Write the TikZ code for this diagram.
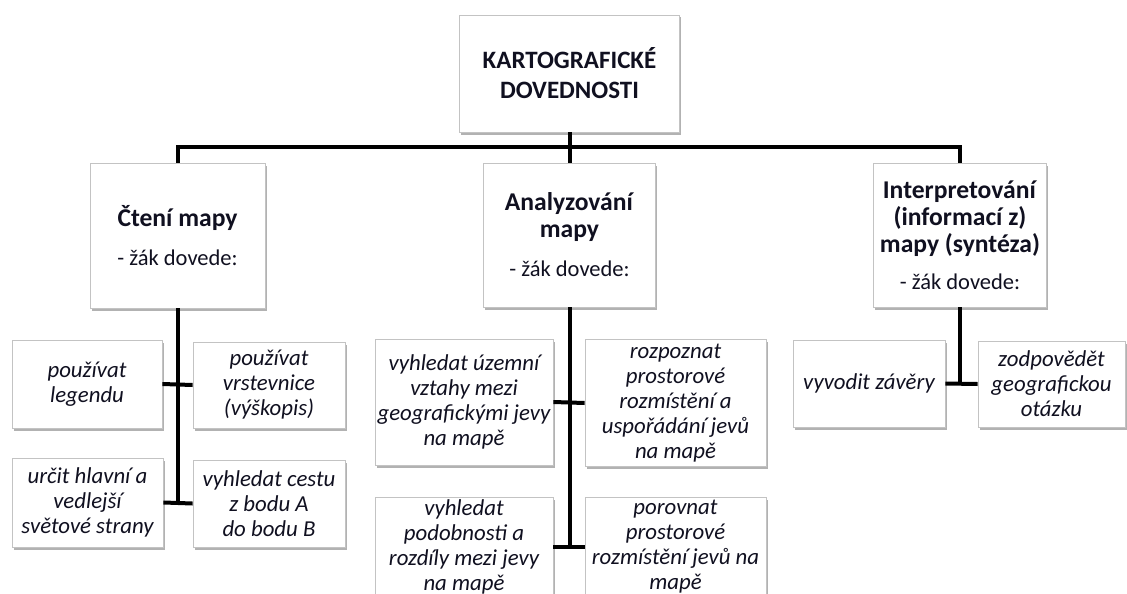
\documentclass[tikz,border=0pt]{standalone}
\usepackage{fontspec}
\setmainfont{Carlito}
\usetikzlibrary{shadows}
\definecolor{txt}{RGB}{16,16,32}
\definecolor{boxline}{RGB}{195,195,195}
\begin{document}
\begin{tikzpicture}[x=1pt,y=-1pt,
  box/.style={draw=boxline, line width=0.8pt, fill=white,
    drop shadow={shadow xshift=1.5pt, shadow yshift=-2.5pt, opacity=0.3, fill=black},
    text=txt, align=center, inner sep=2pt},
  leaf/.style={box, font=\fontsize{22.8}{25}\selectfont\itshape},
  cat/.style={box, font=\fontsize{25.6}{27}\selectfont},
  conn/.style={line width=4pt, black}]
\useasboundingbox (0,0) rectangle (1127,594);
\clip (0,0) rectangle (1127,594);

% top
\node[box, font=\fontsize{25}{30}\selectfont\bfseries, minimum width=220pt, minimum height=117pt] (top) at (569.5,73.5) {KARTOGRAFICKÉ\\DOVEDNOSTI};

% categories
\node[cat, minimum width=175pt, minimum height=145pt] (c1) at (177.5,235.5)
  {\textbf{Čtení mapy}\\[12pt]{\fontsize{22.5}{25}\selectfont - žák dovede:}};
\node[cat, minimum width=172pt, minimum height=144pt] (c2) at (569.5,235)
  {\textbf{Analyzování}\\\textbf{mapy}\\[12pt]{\fontsize{22.5}{25}\selectfont - žák dovede:}};
\node[cat, minimum width=173pt, minimum height=144pt] (c3) at (960,235)
  {\textbf{Interpretování}\\\textbf{(informací z)}\\\textbf{mapy (syntéza)}\\[10pt]{\fontsize{22.5}{25}\selectfont - žák dovede:}};

% left leaves
\node[leaf, minimum width=150pt, minimum height=88pt] (l1) at (87,384) {používat\\legendu};
\node[leaf, minimum width=152pt, minimum height=86pt] (l2) at (269,385) {používat\\vrstevnice\\(výškopis)};
\node[leaf, minimum width=151pt, minimum height=89pt] (l3) at (87.5,502.5) {určit hlavní a\\vedlejší\\světové strany};
\node[leaf, minimum width=152pt, minimum height=87pt] (l4) at (269,503.5) {vyhledat cestu\\z bodu A\\do bodu B};

% middle leaves
\node[leaf, minimum width=178pt, minimum height=126pt] (m1) at (464,402) {vyhledat územní\\vztahy mezi\\geografickými jevy\\na mapě};
\node[leaf, minimum width=181pt, minimum height=127pt] (m2) at (675.5,403) {rozpoznat\\prostorové\\rozmístění a\\uspořádání jevů\\na mapě};
\node[leaf, minimum width=178pt, minimum height=100pt] (m3) at (464,547) {vyhledat\\podobnosti a\\rozdíly mezi jevy\\na mapě};
\node[leaf, minimum width=181pt, minimum height=100pt] (m4) at (675.5,547) {porovnat\\prostorové\\rozmístění jevů na\\mapě};

% right leaves
\node[leaf, minimum width=152pt, minimum height=87pt] (r1) at (869,383.5) {vyvodit závěry};
\node[leaf, minimum width=147pt, minimum height=86pt] (r2) at (1051.5,384) {zodpovědět\\geografickou\\otázku};

% connectors
\coordinate (bar) at (569.5,147);
\draw[conn] (top.south) -- (bar);
\draw[conn] (c1.north) |- (bar) -| (c3.north);
\draw[conn] (bar) -- (c2.north);

\draw[conn] (c1.south) -- (c1.south |- l3.east);
\draw[conn] (l1.east) -- (l2.west);
\draw[conn] (l3.east) -- (l4.west);

\draw[conn] (c2.south) -- (c2.south |- m3.east);
\draw[conn] (m1.east) -- (m2.west);
\draw[conn] (m3.east) -- (m4.west);

\draw[conn] (c3.south) -- (c3.south |- r1.east);
\draw[conn] (r1.east) -- (r2.west);
\end{tikzpicture}
\end{document}
